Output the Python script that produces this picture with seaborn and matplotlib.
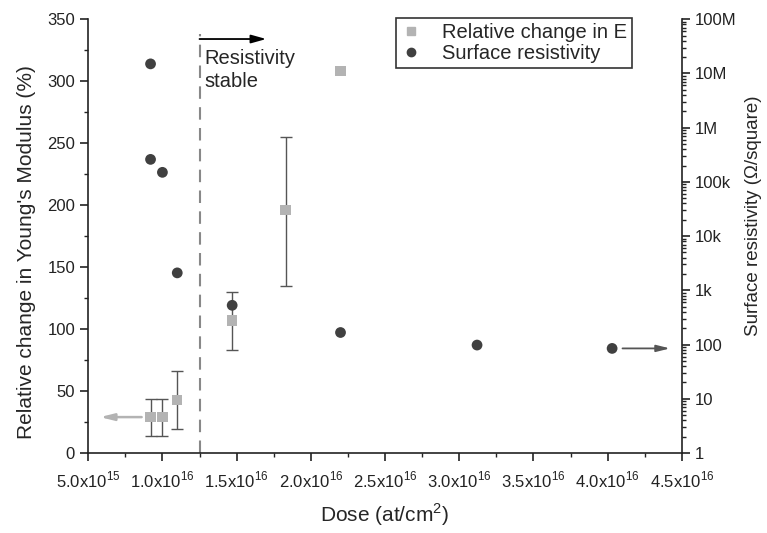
import numpy as np
import pandas as pd
import matplotlib
matplotlib.use("Agg")
import matplotlib.pyplot as plt
import seaborn as sns
from matplotlib.ticker import MultipleLocator, FixedLocator, LogLocator, NullFormatter

# Data
dose_E = [9.2e15, 1.0e16, 1.1e16, 1.47e16, 1.83e16, 2.2e16]
change_E = [29, 29, 43, 107, 196, 308]
err_low = [15, 15, 24, 24, 61, np.nan]
err_high = [15, 15, 23, 23, 59, np.nan]

dose_R = [9.2e15, 9.2e15, 1.0e16, 1.1e16, 1.47e16, 2.2e16, 3.12e16, 4.03e16]
resistivity = [1.5e7, 2.6e5, 1.5e5, 2.1e3, 530, 167, 98, 85]

x_ticks = [5.0e15, 1.0e16, 1.5e16, 2.0e16, 2.5e16, 3.0e16, 3.5e16, 4.0e16, 4.5e16]
x_labels = [r"5.0x10$^{15}$", r"1.0x10$^{16}$", r"1.5x10$^{16}$", r"2.0x10$^{16}$",
            r"2.5x10$^{16}$", r"3.0x10$^{16}$", r"3.5x10$^{16}$", r"4.0x10$^{16}$",
            r"4.5x10$^{16}$"]
r_ticks = [1, 10, 100, 1e3, 1e4, 1e5, 1e6, 1e7, 1e8]
r_labels = ["1", "10", "100", "1k", "10k", "100k", "1M", "10M", "100M"]

df_E = pd.DataFrame({"dose": dose_E, "change": change_E})
df_R = pd.DataFrame({"dose": dose_R, "res": resistivity})

sns.set_style("ticks")
plt.rcParams["font.family"] = ["Liberation Sans", "DejaVu Sans"]
plt.rcParams["mathtext.fontset"] = "custom"
plt.rcParams["mathtext.rm"] = "Liberation Sans"

sq_col = "#b3b3b3"
ci_col = "#404040"

fig, ax = plt.subplots(figsize=(7.67, 5.33), dpi=100)
fig.subplots_adjust(left=0.115, right=0.889, top=0.964, bottom=0.15)

ax.errorbar(dose_E, change_E, yerr=[err_low, err_high], fmt="none",
            ecolor="#555555", elinewidth=1, capsize=4, capthick=1, zorder=2)
sns.scatterplot(data=df_E, x="dose", y="change", marker="s", s=55,
                color=sq_col, edgecolor="none", ax=ax, zorder=3, legend=False)

ax2 = ax.twinx()
sns.scatterplot(data=df_R, x="dose", y="res", marker="o", s=60,
                color=ci_col, edgecolor="none", ax=ax2, zorder=3, legend=False)
ax2.set_yscale("log")
ax2.set_ylim(1, 1e8)

ax.set_xlim(5.0e15, 4.5e16)
ax.set_ylim(0, 350)
ax.yaxis.set_major_locator(MultipleLocator(50))
ax.yaxis.set_minor_locator(MultipleLocator(25))
ax.xaxis.set_major_locator(FixedLocator(x_ticks))
ax.xaxis.set_minor_locator(MultipleLocator(2.5e15))
ax.set_xticklabels(x_labels)

ax2.yaxis.set_major_locator(FixedLocator(r_ticks))
ax2.set_yticklabels(r_labels)
ax2.yaxis.set_minor_locator(LogLocator(base=10, subs=np.arange(2, 10)))
ax2.yaxis.set_minor_formatter(NullFormatter())

for a in (ax, ax2):
    a.spines["top"].set_visible(False)
    for s in a.spines.values():
        s.set_linewidth(1.2)
        s.set_color("#222222")
    a.tick_params(which="major", length=6, width=1.2, labelsize=12, colors="#222222")
    a.tick_params(which="minor", length=3, width=1, colors="#222222")
ax.tick_params(axis="x", pad=6)
ax.spines["right"].set_visible(False)
ax2.spines["left"].set_visible(False)
ax2.spines["bottom"].set_visible(False)

ax.set_xlabel(r"Dose (at/cm$^{2}$)", fontsize=15, labelpad=8)
ax.set_ylabel("Relative change in Young's Modulus (%)", fontsize=15)
ax.yaxis.set_label_coords(-0.088, 0.463)
ax2.set_ylabel("Surface resistivity (\u03a9/square)", fontsize=13.5)
ax2.yaxis.set_label_coords(1.107, 0.546)

# threshold line and annotations
ax.axvline(1.25e16, ymin=0, ymax=338 / 350, color="#888888", linestyle=(0, (6, 4)),
           linewidth=1.5, zorder=1)
ax.annotate("", xy=(1.7e16, 334), xytext=(1.25e16, 334),
            arrowprops=dict(arrowstyle="-|>,head_width=0.25,head_length=0.9",
                            color="black", lw=1.3, shrinkA=0, shrinkB=0))
ax.text(1.28e16, 326, "Resistivity\nstable", fontsize=14.5, va="top", ha="left",
        linespacing=1.3)
ax.annotate("", xy=(5.8e15, 29), xytext=(8.6e15, 29),
            arrowprops=dict(arrowstyle="-|>,head_width=0.2,head_length=0.8",
                            color=sq_col, lw=1.8, shrinkA=0, shrinkB=0))
ax2.annotate("", xy=(4.42e16, 85), xytext=(4.1e16, 85),
             arrowprops=dict(arrowstyle="-|>,head_width=0.2,head_length=0.8",
                             color="#555555", lw=1.3, shrinkA=0, shrinkB=0))

h1 = plt.Line2D([], [], marker="s", color=sq_col, linestyle="none", markersize=6)
h2 = plt.Line2D([], [], marker="o", color=ci_col, linestyle="none", markersize=6)
leg = ax2.legend([h1, h2], ["Relative change in E", "Surface resistivity"],
                 loc="upper left", bbox_to_anchor=(0.519, 1.003), fontsize=14.5,
                 frameon=True, fancybox=False, edgecolor="black",
                 borderpad=0.25, labelspacing=0.1, handletextpad=1.0,
                 handlelength=1.0, borderaxespad=0)
leg.get_frame().set_linewidth(1.2)

fig.savefig("out.png", dpi=100)
